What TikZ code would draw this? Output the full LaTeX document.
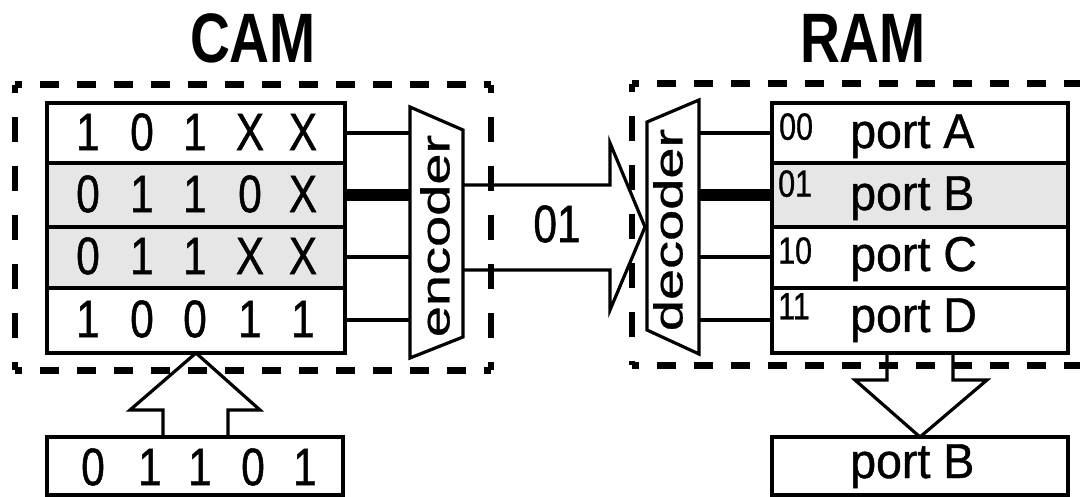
\documentclass[tikz,border=0pt]{standalone}
\usepackage{fontspec}
\setmainfont{Liberation Sans}
\newfontfamily\digitfont[FakeStretch=0.8,FakeBold=0.8]{Liberation Sans}
\newfontfamily\portfont[FakeStretch=0.95,FakeBold=0.8]{Liberation Sans}
\newfontfamily\titlefont[FakeStretch=0.79]{Liberation Sans}
\newfontfamily\plainfont[FakeBold=0.6]{Liberation Sans}
\definecolor{rowgray}{HTML}{E6E6E6}
\begin{document}
\begin{tikzpicture}[x=1pt, y=-1pt, line join=miter,
  camrow/.style={draw=black, line width=3.5pt, minimum width=298pt, inner sep=0pt, outer sep=0pt},
  ramrow/.style={draw=black, line width=3.5pt, minimum width=296pt, inner sep=0pt, outer sep=0pt},
  dig/.style={font=\digitfont\fontsize{53}{53}\selectfont, inner sep=0pt},
  porttxt/.style={font=\portfont\fontsize{49}{49}\selectfont, inner sep=0pt, anchor=base west},
  addr/.style={font=\digitfont\fontsize{38}{38}\selectfont, inner sep=0pt, anchor=north west},
  wire/.style={line width=4pt},
  hotwire/.style={line width=12pt},
  outline/.style={line width=3.2pt, line join=miter},
  hdash/.style={line width=7pt, dash pattern=on 19pt off 18pt, dash phase=12pt},
  vdash/.style={line width=6.5pt, dash pattern=on 25pt off 24pt, dash phase=17pt},
  title/.style={font=\titlefont\bfseries\fontsize{70}{70}\selectfont, inner sep=0pt}
]
\useasboundingbox (0,0) rectangle (1080,497);

% titles
\node[title] (camtitle) at (253,38) {CAM};
\node[title] (ramtitle) at (863,38) {RAM};

% dashed boxes
\draw[hdash] (15,85) -- (491,85);
\draw[hdash] (15,370) -- (491,370);
\draw[vdash] (15,85) -- (15,370);
\draw[vdash] (491,85) -- (491,370);
\draw[hdash] (632,84) -- (1080,84);
\draw[hdash] (632,365) -- (1080,365);
\draw[vdash] (632,84) -- (632,365);

% CAM rows
\node[camrow, fill=white,   minimum height=60pt] (c1) at (196,133) {};
\node[camrow, fill=rowgray, minimum height=64pt] (c2) at (196,195) {};
\node[camrow, fill=rowgray, minimum height=61pt] (c3) at (196,257.5) {};
\node[camrow, fill=white,   minimum height=65pt] (c4) at (196,320.5) {};

% CAM contents
\foreach \t [count=\i] in {1,0,1,X,X} {
  \pgfmathsetmacro{\xx}{{88,142,195,250,303}[\i-1]}
  \node[dig] (ca\i) at (\xx,132) {\t};
}
\foreach \t [count=\i] in {0,1,1,0,X} {
  \pgfmathsetmacro{\xx}{{88,142,195,250,303}[\i-1]}
  \node[dig] (cb\i) at (\xx,194) {\t};
}
\foreach \t [count=\i] in {0,1,1,X,X} {
  \pgfmathsetmacro{\xx}{{88,142,195,250,303}[\i-1]}
  \node[dig] (cc\i) at (\xx,256) {\t};
}
\foreach \t [count=\i] in {1,0,0,1,1} {
  \pgfmathsetmacro{\xx}{{88,142,195,250,303}[\i-1]}
  \node[dig] (cd\i) at (\xx,319) {\t};
}

% encoder
\coordinate (encTL) at (410,107);
\coordinate (encTR) at (463,130);
\coordinate (encBR) at (463,337);
\coordinate (encBL) at (410,358);
\draw[outline, fill=white] (encTL) -- (encTR) -- (encBR) -- (encBL) -- cycle;
\node[inner sep=0pt] (enctext) at (435,236)
  {\scalebox{0.72}[1]{\rotatebox{90}{\plainfont\fontsize{56}{56}\selectfont encoder}}};

% CAM -> encoder wires
\draw[wire]    (c1.east) -- (c1.east -| encTL);
\draw[hotwire] (c2.east) -- (c2.east -| encTL);
\draw[wire]    (c3.east) -- (c3.east -| encTL);
\draw[wire]    (c4.east) -- (c4.east -| encTL);

% decoder
\coordinate (decTL) at (647,122);
\coordinate (decTR) at (699,100);
\coordinate (decBR) at (699,354);
\coordinate (decBL) at (647,330);
\draw[outline, fill=white] (decTL) -- (decTR) -- (decBR) -- (decBL) -- cycle;
\node[inner sep=0pt] (dectext) at (668,230)
  {\scalebox{0.72}[1]{\rotatebox{90}{\plainfont\fontsize{56}{56}\selectfont decoder}}};

% big arrow encoder -> decoder
\coordinate (arrA) at (463,185);
\coordinate (arrB) at (463,270);
\coordinate (arrTip) at (645,227);
\draw[outline] (arrA) -- (610,185) -- (610,143) -- (arrTip) -- (610,310) -- (610,270) -- (arrB);
\node[dig] (addrlabel) at (557,224) {01};

% RAM rows
\node[ramrow, fill=white,   minimum height=60pt] (r1) at (920,133) {};
\node[ramrow, fill=rowgray, minimum height=64pt] (r2) at (920,195) {};
\node[ramrow, fill=white,   minimum height=61pt] (r3) at (920,257.5) {};
\node[ramrow, fill=white,   minimum height=65pt] (r4) at (920,320.5) {};

\node[addr] (a1) at (779,113) {00};
\node[addr] (a2) at (778,170) {01};
\node[addr] (a3) at (778,237) {10};
\node[addr] (a4) at (778,293) {11};

\node[porttxt] (p1) at (850,148) {port A};
\node[porttxt] (p2) at (850,210) {port B};
\node[porttxt] (p3) at (850,271) {port C};
\node[porttxt] (p4) at (850,332) {port D};

% decoder -> RAM wires
\draw[wire]    (r1.west -| decTR) -- (r1.west);
\draw[hotwire] (r2.west -| decTR) -- (r2.west);
\draw[wire]    (r3.west -| decTR) -- (r3.west);
\draw[wire]    (r4.west -| decTR) -- (r4.west);

% input key box
\node[camrow, fill=white, minimum width=296pt, minimum height=58pt] (inp) at (195,466) {};
\foreach \t [count=\i] in {0,1,1,0,1} {
  \pgfmathsetmacro{\xx}{{93,150,200,253,305}[\i-1]}
  \node[dig] (in\i) at (\xx,467) {\t};
}
\draw[outline] (163,437) -- (163,410) -- (130,410) -- (c4.south) -- (260,410) -- (228,410) -- (228,437);

% output box
\node[ramrow, fill=white, minimum height=58pt] (outp) at (920,466) {};
\node[porttxt] (pout) at (850,478) {port B};
\draw[outline] (887,353) -- (887,380) -- (855,380) -- (outp.north) -- (987,380) -- (953,380) -- (953,353);

\end{tikzpicture}
\end{document}
